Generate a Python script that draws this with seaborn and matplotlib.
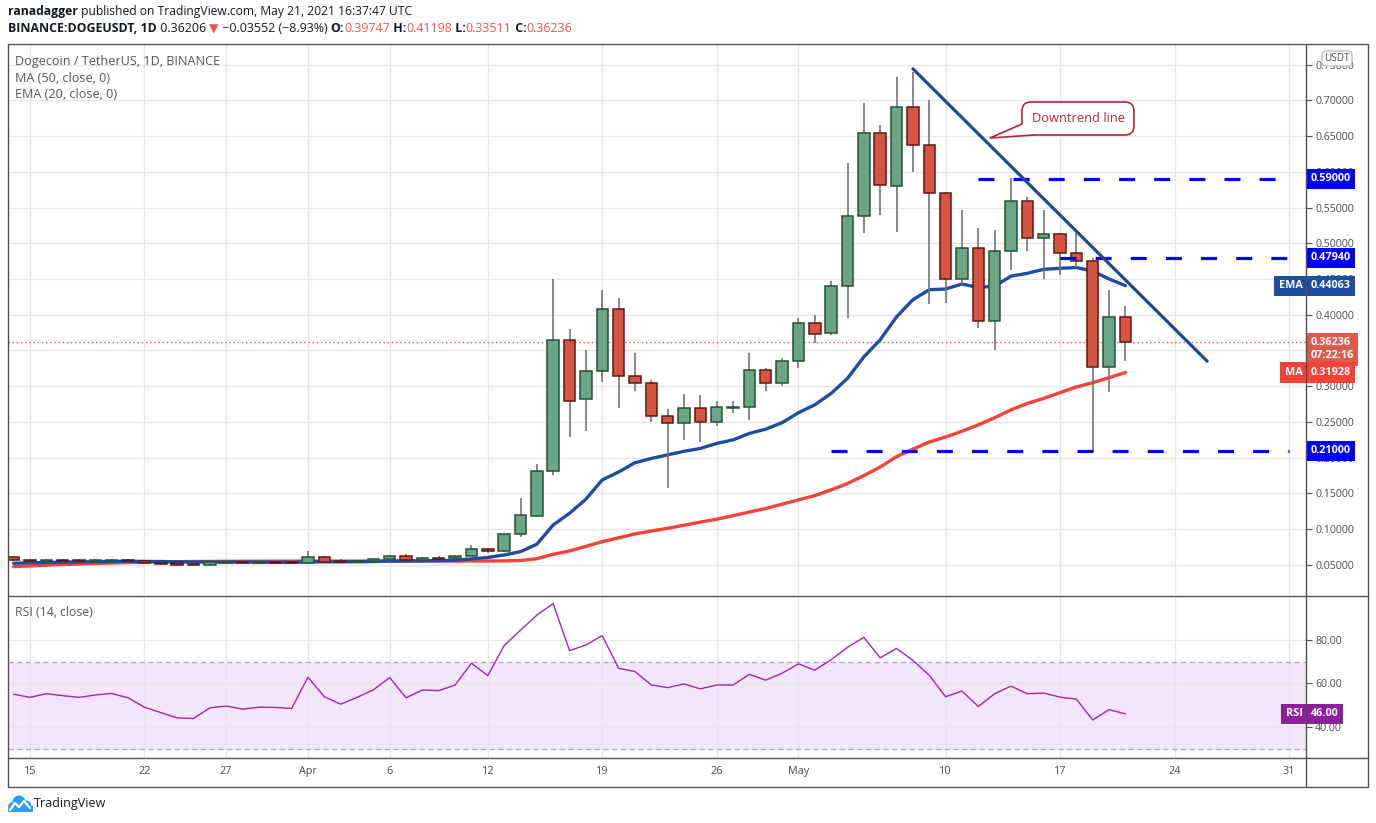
import numpy as np
import pandas as pd
import matplotlib
matplotlib.use("Agg")
import matplotlib.pyplot as plt
import matplotlib.transforms as mtransforms
from matplotlib.patches import FancyBboxPatch, Polygon, Circle, Rectangle
from matplotlib.lines import Line2D
import seaborn as sns

# ---------------- data ----------------
dates = pd.date_range("2021-03-14", "2021-05-21", freq="D")

opens = [0.0608, 0.0570, 0.0550, 0.0570, 0.0572, 0.0553, 0.0555, 0.0572, 0.0553, 0.0528,
         0.0525, 0.0512, 0.0502, 0.0530, 0.0538, 0.0527, 0.0535, 0.0535,
         0.0524, 0.0608, 0.0550, 0.0535, 0.0552, 0.0584, 0.0626, 0.0566, 0.0598, 0.0594,
         0.0626, 0.0720, 0.0690, 0.0930, 0.1190, 0.1810, 0.3640, 0.2820, 0.3210, 0.4076,
         0.3150, 0.3040, 0.2590, 0.2480, 0.2690, 0.2500, 0.2700, 0.2705, 0.3225, 0.3040,
         0.3360, 0.3890, 0.3740, 0.4400, 0.5380, 0.6540, 0.5800, 0.6900, 0.6370, 0.5700,
         0.4500, 0.4930, 0.3910, 0.4890, 0.5590, 0.5070, 0.5125, 0.4860, 0.4750, 0.3270,
         0.39747]
highs = [0.0630, 0.0578, 0.0578, 0.0578, 0.0582, 0.0580, 0.0582, 0.0578, 0.0560, 0.0535,
         0.0535, 0.0518, 0.0540, 0.0542, 0.0542, 0.0542, 0.0540, 0.0540,
         0.0700, 0.0620, 0.0580, 0.0560, 0.0590, 0.0640, 0.0650, 0.0605, 0.0620, 0.0640,
         0.0775, 0.0740, 0.0948, 0.1440, 0.1910, 0.4500, 0.3800, 0.3510, 0.4350, 0.4230,
         0.3460, 0.3090, 0.2680, 0.2890, 0.2880, 0.2790, 0.2790, 0.3460, 0.3250, 0.3390,
         0.3960, 0.3990, 0.4470, 0.6120, 0.6960, 0.6650, 0.7320, 0.7390, 0.7000, 0.5710,
         0.5470, 0.5210, 0.5190, 0.5910, 0.5640, 0.5470, 0.5150, 0.5150, 0.4800, 0.4350,
         0.41198]
lows = [0.0560, 0.0545, 0.0545, 0.0548, 0.0550, 0.0548, 0.0550, 0.0548, 0.0515, 0.0505,
        0.0487, 0.0495, 0.0498, 0.0525, 0.0520, 0.0522, 0.0518, 0.0515,
        0.0520, 0.0540, 0.0528, 0.0530, 0.0545, 0.0578, 0.0560, 0.0560, 0.0578, 0.0590,
        0.0620, 0.0670, 0.0680, 0.0896, 0.1180, 0.1760, 0.2290, 0.2380, 0.3060, 0.2690,
        0.2940, 0.2500, 0.1580, 0.2250, 0.2220, 0.2450, 0.2630, 0.2530, 0.2940, 0.3010,
        0.3260, 0.3610, 0.3720, 0.3960, 0.5150, 0.5390, 0.5160, 0.5990, 0.4150, 0.4170,
        0.4410, 0.3810, 0.3500, 0.4630, 0.4890, 0.4500, 0.4550, 0.4650, 0.2080, 0.2920,
        0.33511]
closes = [0.0566, 0.0550, 0.0570, 0.0552, 0.0555, 0.0572, 0.0573, 0.0553, 0.0525, 0.0510,
          0.0500, 0.0500, 0.0535, 0.0538, 0.0525, 0.0538, 0.0522, 0.0524,
          0.0608, 0.0547, 0.0535, 0.0552, 0.0584, 0.0626, 0.0566, 0.0594, 0.0584, 0.0626,
          0.0720, 0.0690, 0.0930, 0.1195, 0.1810, 0.3640, 0.2800, 0.3210, 0.4076, 0.3150,
          0.3040, 0.2590, 0.2480, 0.2690, 0.2500, 0.2705, 0.2705, 0.3225, 0.3040, 0.3360,
          0.3890, 0.3730, 0.4400, 0.5380, 0.6540, 0.5810, 0.6900, 0.6370, 0.5700, 0.4500,
          0.4930, 0.3910, 0.4890, 0.5590, 0.5080, 0.5125, 0.4860, 0.4750, 0.3270, 0.3965,
          0.36236]
ema20 = [0.0524, 0.0530, 0.0535, 0.0540, 0.0543, 0.0546, 0.0549, 0.0551, 0.0550, 0.0548,
         0.0545, 0.0542, 0.0541, 0.0540, 0.0540, 0.0540, 0.0538, 0.0537,
         0.0543, 0.0544, 0.0544, 0.0545, 0.0548, 0.0555, 0.0556, 0.0559, 0.0561, 0.0567,
         0.0585, 0.0605, 0.0640, 0.0686, 0.0790, 0.1060, 0.1223, 0.1420, 0.1690, 0.1800,
         0.1930, 0.1990, 0.2040, 0.2090, 0.2130, 0.2200, 0.2250, 0.2340, 0.2400, 0.2490,
         0.2630, 0.2740, 0.2900, 0.3110, 0.3410, 0.3650, 0.3970, 0.4210, 0.4350, 0.4360,
         0.4430, 0.4380, 0.4400, 0.4540, 0.4580, 0.4635, 0.4650, 0.4660, 0.4610, 0.4500,
         0.44063]
ma50 = [0.0477, 0.0487, 0.0497, 0.0506, 0.0514, 0.0521, 0.0528, 0.0534, 0.0540, 0.0543,
        0.0546, 0.0548, 0.0550, 0.0551, 0.0552, 0.0552, 0.0553, 0.0553,
        0.0554, 0.0554, 0.0554, 0.0554, 0.0554, 0.0555, 0.0555, 0.0555, 0.0555, 0.0555,
        0.0555, 0.0556, 0.0557, 0.0562, 0.0588, 0.0650, 0.0696, 0.0760, 0.0826, 0.0880,
        0.0934, 0.0975, 0.1013, 0.1055, 0.1100, 0.1140, 0.1190, 0.1240, 0.1290, 0.1350,
        0.1410, 0.1470, 0.1550, 0.1640, 0.1750, 0.1870, 0.2015, 0.2120, 0.2220, 0.2290,
        0.2370, 0.2460, 0.2560, 0.2670, 0.2760, 0.2830, 0.2910, 0.2990, 0.3050, 0.3120,
        0.31928]
rsi = [55.1, 53.6, 55.3, 54.4, 53.6, 54.7, 55.4, 53.4, 49.1, 46.6,
       44.2, 43.9, 48.8, 49.6, 48.2, 49.1, 49.0, 48.5,
       62.9, 53.9, 50.5, 53.6, 57.1, 62.7, 53.4, 57.0, 56.7, 59.3,
       69.3, 63.6, 77.4, 84.5, 91.4, 96.7, 75.1, 77.7, 82.0, 67.0,
       65.5, 59.3, 58.1, 59.8, 57.5, 59.3, 59.3, 64.2, 61.5, 64.7,
       69.0, 66.1, 70.9, 76.6, 81.2, 71.8, 76.1, 70.6, 63.8, 53.9,
       56.5, 49.4, 55.3, 58.8, 55.3, 55.6, 53.7, 52.8, 43.2, 48.0,
       46.0]

level_values = [0.59, 0.4794, 0.21]
level_labels = ["0.59000", "0.47940", "0.21000"]
level_starts = ["2021-05-12", "2021-05-17", "2021-05-03"]
level_end = "2021-05-31"

trend_dates = ["2021-05-08", "2021-05-26"]
trend_prices = [0.744, 0.335]

tick_dates = ["2021-03-15", "2021-03-22", "2021-03-27", "2021-04-01", "2021-04-06",
              "2021-04-12", "2021-04-19", "2021-04-26", "2021-05-01", "2021-05-10",
              "2021-05-17", "2021-05-24", "2021-05-31"]
tick_labels = ["15", "22", "27", "Apr", "6", "12", "19", "26", "May", "10", "17", "24", "31"]
price_ticks = [0.05, 0.10, 0.15, 0.20, 0.25, 0.30, 0.35, 0.40, 0.45, 0.50, 0.55, 0.60,
               0.65, 0.70, 0.75]
rsi_ticks = [40, 60, 80]

# ---------------- style ----------------
sns.set_theme(style="white")
plt.rcParams['font.family'] = ['Open Sans', 'DejaVu Sans']

UP_FILL, UP_EDGE = '#6ba583', '#225437'
DN_FILL, DN_EDGE = '#d75442', '#5b1a13'
WICK = '#737375'
EMA_C = '#1c4da1'
MA_C = '#f44336'
LVL_C = '#0000ff'
TREND_C = '#1f4a8c'
RSI_C = '#9c27b0'
GRID = '#e6e6e6'
FRAME = '#505050'
TXT = '#4a4a4a'

W, H = 1376, 823
fig = plt.figure(figsize=(W / 100, H / 100), dpi=100)
fig.patch.set_facecolor('white')
T = mtransforms.IdentityTransform()


def fbox(l, t, r, b):
    return [l / W, 1 - b / H, (r - l) / W, (b - t) / H]


ax = fig.add_axes(fbox(8, 44, 1306, 595))
axr = fig.add_axes(fbox(8, 596, 1306, 758))

origin = pd.Timestamp("2021-03-15")


def dnum(s):
    return (pd.Timestamp(s) - origin).days


days = np.array([(d - origin).days for d in dates], float)
o = np.array(opens); h = np.array(highs); l = np.array(lows); c = np.array(closes)

XL = ((8 - 30) / 16.35, (1306 - 30) / 16.35)
for a in (ax, axr):
    a.set_xlim(*XL)
    a.set_facecolor('white')
    for sp in a.spines.values():
        sp.set_visible(False)

ax.set_ylim(0.0080, 0.7787)
axr.set_ylim(25.75, 100.2)

xt = [dnum(s) for s in tick_dates]
for a in (ax, axr):
    a.set_xticks(xt)
    a.grid(True, axis='both', color=GRID, lw=1.0, zorder=0)
    a.set_axisbelow(True)
    a.yaxis.tick_right()
    a.tick_params(axis='y', which='both', right=True, length=4, width=0.8, color=FRAME,
                  pad=2.5, labelsize=7.6, labelcolor=TXT)
ax.set_xticklabels([])
ax.tick_params(axis='x', length=0)
axr.set_xticklabels(tick_labels)
axr.tick_params(axis='x', length=0, pad=5.5, labelsize=7.8, labelcolor=TXT)

ax.set_yticks(price_ticks)
ax.set_yticklabels([f"{v:.5f}" for v in price_ticks])
axr.set_yticks(rsi_ticks)
axr.set_yticklabels([f"{v:.2f}" for v in rsi_ticks])

# ---------------- main pane ----------------
df = pd.DataFrame({'day': days, 'ema': ema20, 'ma': ma50, 'rsi': rsi})
sns.lineplot(data=df, x='day', y='ma', ax=ax, color=MA_C, lw=2.4, zorder=2.2)
sns.lineplot(data=df, x='day', y='ema', ax=ax, color=EMA_C, lw=2.4, zorder=2.3)

ax.vlines(days, l, h, color=WICK, lw=1.2, zorder=3)
up = c >= o
fills = np.where(up, UP_FILL, DN_FILL)
edges = np.where(up, UP_EDGE, DN_EDGE)
ax.bar(days, np.maximum(np.abs(c - o), 0.0004), bottom=np.minimum(o, c), width=0.7,
       color=fills, edgecolor=edges, linewidth=1.1, zorder=4)

for v, s in zip(level_values, level_starts):
    sns.lineplot(x=[dnum(s), dnum(level_end)], y=[v, v], ax=ax, color=LVL_C, lw=2.3,
                 linestyle=(0, (5, 6)), zorder=5)

sns.lineplot(x=[dnum(s) for s in trend_dates], y=trend_prices, ax=ax, color=TREND_C,
             lw=2.3, zorder=6)

ax.axhline(closes[-1], color='#e0574b', lw=1.0, ls=(0, (1, 2)), zorder=2)
ax.set_xlabel(''); ax.set_ylabel('')

# ---------------- RSI pane ----------------
axr.axhspan(30, 70, color='#f3e5fc', zorder=0.5)
for lv in (30, 70):
    axr.axhline(lv, color='#a8a8a8', lw=0.9, ls=(0, (4, 3)), zorder=1)
sns.lineplot(data=df, x='day', y='rsi', ax=axr, color=RSI_C, lw=1.0, zorder=3)
axr.set_xlabel(''); axr.set_ylabel('')

# ---------------- right-side value labels ----------------
def vlabel(a, y, s, bg, x=1.0035, ha='left', dy=0, pad=0.42, ls=1.2):
    tr = mtransforms.blended_transform_factory(a.transAxes, a.transData)
    a.annotate(s, xy=(x, y), xycoords=tr, xytext=(0, dy), textcoords='offset points',
               ha=ha, va='center', color='white', fontsize=7.8, fontweight='bold',
               linespacing=ls,
               bbox=dict(boxstyle=f'square,pad={pad}', fc=bg, ec='none'),
               annotation_clip=False, zorder=20)


for v, s in zip(level_values, level_labels):
    vlabel(ax, v, s, LVL_C)
vlabel(ax, ema20[-1], f"{ema20[-1]:.5f}", EMA_C)
vlabel(ax, ema20[-1], "EMA", EMA_C, x=0.9975, ha='right')
vlabel(ax, closes[-1], f"{closes[-1]:.5f}\n07:22:16", '#dd5b4d', dy=-5.6, ls=1.25)
vlabel(ax, ma50[-1], f"{ma50[-1]:.5f}", MA_C)
vlabel(ax, ma50[-1], "MA", MA_C, x=0.9975, ha='right')
vlabel(axr, rsi[-1], f"{rsi[-1]:.2f}", '#8e1f9c')
vlabel(axr, rsi[-1], "RSI", '#8e1f9c', x=0.9975, ha='right')

# USDT box
fig.add_artist(FancyBboxPatch((1322, H - 66), 30, 15, boxstyle='round,pad=0,rounding_size=4',
                              fc='white', ec='#b8b8b8', lw=0.9, transform=T, zorder=30))
fig.text(1337 / W, 1 - 58.5 / H, "USDT", ha='center', va='center', fontsize=7.2,
         color=TXT, zorder=31)

# ---------------- callout ----------------
RED = '#b22833'
fig.add_artist(FancyBboxPatch((1022, H - 135), 112, 33, boxstyle='round,pad=0,rounding_size=9',
                              fc='white', ec=RED, lw=1.2, transform=T, zorder=30))
fig.add_artist(Polygon([(1022.6, H - 124), (990, H - 138), (1034, H - 134.4), (1034, H - 126)],
                       closed=True, fc='white', ec='none', transform=T, zorder=31))
fig.add_artist(Line2D([1022, 990, 1034], [H - 124, H - 138, H - 135], color=RED, lw=1.2,
                      transform=T, zorder=32))
fig.text(1078 / W, 1 - 118 / H, "Downtrend line", ha='center', va='center', fontsize=9.3,
         color=RED, zorder=33)

# ---------------- frame ----------------
def pline(xs, ys, lw=1.0, col=FRAME):
    fig.add_artist(Line2D(xs, [H - y for y in ys], color=col, lw=lw, transform=T, zorder=40))


pline([8, 1368, 1368, 8, 8], [44, 44, 787, 787, 44])
pline([8, 1368], [595.5, 595.5])
pline([8, 1368], [758, 758])
pline([1306, 1306], [44, 787])

# ---------------- texts ----------------
rend = fig.canvas.get_renderer()


def seq_text(x, y, pieces, size):
    for s, col, wt in pieces:
        t = fig.text(x / W, 1 - y / H, s, ha='left', va='center', fontsize=size, color=col,
                     fontweight=wt)
        x += t.get_window_extent(renderer=rend).width


DK = '#131722'
RV = '#ef5350'
seq_text(8, 12, [("ranadagger", DK, 'bold'),
                 (" published on TradingView.com, May 21, 2021 16:37:47 UTC", DK, 'normal')], 8.7)
seq_text(8, 29, [("BINANCE:DOGEUSDT, 1D", DK, 'bold'), (" 0.36206 ", DK, 'normal'),
                 ("\u25bc", RV, 'normal'), (" \u22120.03552 (\u22128.93%) ", DK, 'normal'),
                 ("O:", DK, 'bold'), ("0.39747", RV, 'normal'), (" H:", DK, 'bold'),
                 ("0.41198", RV, 'normal'), (" L:", DK, 'bold'), ("0.33511", RV, 'normal'),
                 (" C:", DK, 'bold'), ("0.36236", RV, 'normal')], 8.9)

LEG = '#555555'
fig.text(15 / W, 1 - 61 / H, "Dogecoin / TetherUS, 1D, BINANCE", fontsize=9.1, color=LEG,
         va='center', ha='left')
fig.text(15 / W, 1 - 78 / H, "MA (50, close, 0)", fontsize=9.1, color=LEG, va='center')
fig.text(15 / W, 1 - 95 / H, "EMA (20, close, 0)", fontsize=9.1, color=LEG, va='center')
fig.text(15 / W, 1 - 612 / H, "RSI (14, close)", fontsize=8.8, color=LEG, va='center')

# logo
LOGO = '#2e9ef0'
for cx, cy, r in [(13, 807, 5), (19, 802, 6.5), (26, 806, 5.5)]:
    fig.add_artist(Circle((cx, H - cy), r, fc=LOGO, ec='none', transform=T, zorder=30))
fig.add_artist(Rectangle((8, H - 812), 25, 6, fc=LOGO, ec='none', transform=T, zorder=30))
fig.add_artist(Line2D([10, 15, 19, 24, 30], [H - 810, H - 803, H - 807, H - 801, H - 808],
                      color='white', lw=1.6, transform=T, zorder=31))
fig.text(34 / W, 1 - 804 / H, "TradingView", fontsize=9.0, color=DK, va='center', ha='left')

fig.savefig("out.png", dpi=100, facecolor='white')
